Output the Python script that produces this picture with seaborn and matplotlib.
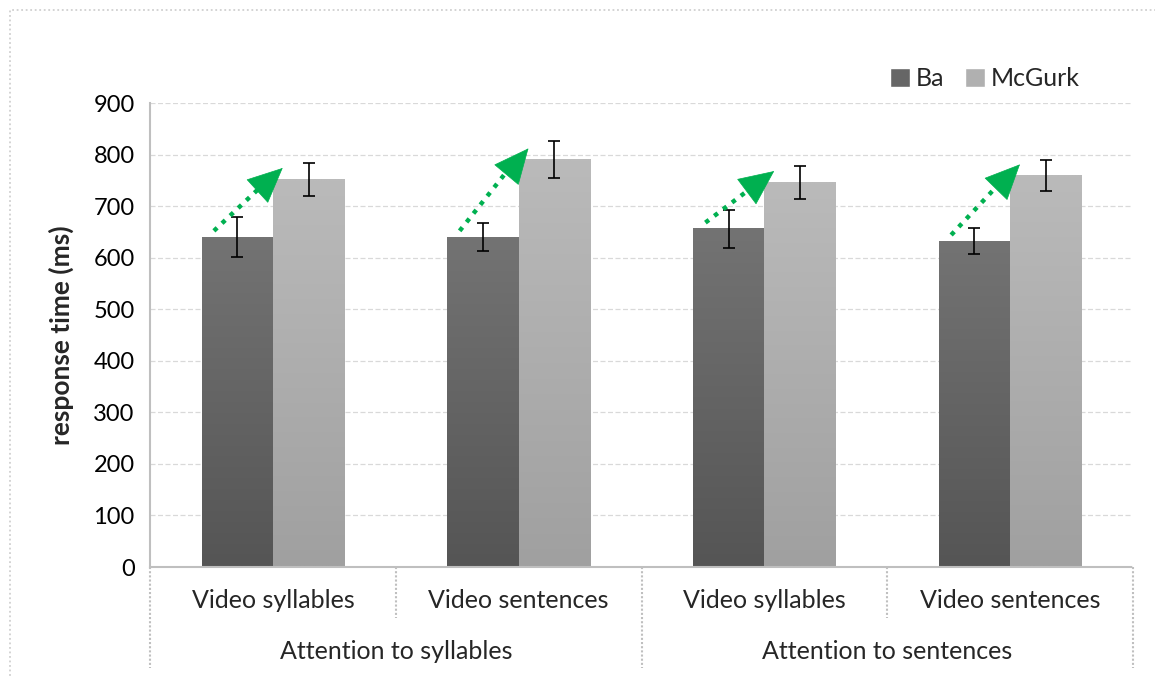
import numpy as np
import pandas as pd
import seaborn as sns
import matplotlib.pyplot as plt
import matplotlib.transforms as mtransforms
from matplotlib.patches import Patch, Rectangle

# values
categories = ['Video syllables', 'Video sentences', 'Video syllables', 'Video sentences']
groups = ['Attention to syllables', 'Attention to sentences']
conditions = ['Ba', 'McGurk']
ba_rt = [640, 640, 656, 632]
ba_err = [38, 28, 37, 25]
mcgurk_rt = [752, 790, 746, 759]
mcgurk_err = [32, 36, 32, 30]

font = ['Lato', 'DejaVu Sans']
grid_col = '#d9d9d9'
axis_col = '#bfbfbf'
arrow_col = '#00b050'


def build_frame() -> pd.DataFrame:
    rows = []
    for i, cat in enumerate(categories):
        key = f'{i}_{cat}'
        rows.append({'slot': key, 'condition': 'Ba', 'rt': ba_rt[i], 'err': ba_err[i]})
        rows.append({'slot': key, 'condition': 'McGurk', 'rt': mcgurk_rt[i], 'err': mcgurk_err[i]})
    return pd.DataFrame(rows)


def paint_gradient(ax, patch, top_col, bottom_col):
    x0, y0 = patch.get_x(), patch.get_y()
    w, h = patch.get_width(), patch.get_height()
    c_top = np.array(plt.matplotlib.colors.to_rgb(top_col))
    c_bot = np.array(plt.matplotlib.colors.to_rgb(bottom_col))
    t = np.linspace(0, 1, 100)[:, None]
    grad = (c_top * (1 - t) + c_bot * t)[:, None, :]
    ax.imshow(grad, extent=[x0, x0 + w, y0, y0 + h], aspect='auto', zorder=2,
              interpolation='bilinear')
    patch.set_visible(False)


def main():
    sns.set_style('white')
    plt.rcParams['font.family'] = font

    data = build_frame()
    fig = plt.figure(figsize=(11.55, 6.77), dpi=100)
    ax = fig.add_axes([150 / 1155, 1 - 567 / 677, 983 / 1155, 464 / 677])

    sns.barplot(data=data, x='slot', y='rt', hue='condition', hue_order=conditions,
                palette=['#666666', '#b0b0b0'], width=0.58, errorbar=None,
                legend=False, ax=ax, zorder=2)

    # gradients + error bars
    bars_ba = ax.containers[0]
    bars_mc = ax.containers[1]
    for bars, errs, top_c, bot_c in [(bars_ba, ba_err, '#737373', '#555555'),
                                      (bars_mc, mcgurk_err, '#bababa', '#a0a0a0')]:
        for patch, e in zip(bars, errs):
            cx = patch.get_x() + patch.get_width() / 2
            ax.errorbar(cx, patch.get_height(), yerr=e, color='black', lw=1.2,
                        capsize=4.5, capthick=1.2, zorder=4)
            paint_gradient(ax, patch, top_c, bot_c)

    # green dotted arrows from Ba to McGurk
    for i in range(len(categories)):
        x0, y0 = i - 0.24, ba_rt[i] + 12
        x1, y1 = i + 0.04, mcgurk_rt[i] + 22
        ax.plot([x0, x1 - 0.03], [y0, y1 - 10], color=arrow_col, lw=3.2,
                linestyle=(0, (1, 1.5)), zorder=5)
        xm, ym = x0 + 0.75 * (x1 - x0), y0 + 0.75 * (y1 - y0)
        ax.annotate('', xy=(x1, y1), xytext=(xm, ym),
                    arrowprops=dict(arrowstyle='-|>,head_length=1.2,head_width=0.55',
                                    color=arrow_col, lw=0.5, mutation_scale=20,
                                    shrinkA=0, shrinkB=0),
                    zorder=5)

    ax.set_xlim(-0.5, 3.5)
    ax.set_ylim(0, 900)
    ax.set_yticks(range(0, 901, 100))
    ax.yaxis.grid(True, color=grid_col, linestyle=(0, (4, 2)), lw=0.9)
    ax.set_axisbelow(True)
    for s in ['top', 'right']:
        ax.spines[s].set_visible(False)
    for s in ['left', 'bottom']:
        ax.spines[s].set_color(axis_col)
        ax.spines[s].set_linestyle((0, (1, 1)))
        ax.spines[s].set_linewidth(1.5)
    ax.tick_params(axis='y', labelsize=17, length=5, color=axis_col, pad=6, labelcolor='black')
    ax.tick_params(axis='x', length=0, labelbottom=False)
    ax.set_xlabel('')
    ax.set_ylabel('response time (ms)', fontsize=19, fontweight='bold', labelpad=14)

    # two-level category axis
    trans = mtransforms.blended_transform_factory(ax.transData, ax.transAxes)
    for i, cat in enumerate(categories):
        ax.text(i, -0.073, cat, transform=trans, ha='center', va='center', fontsize=18)
    for g, name in enumerate(groups):
        ax.text(2 * g + 0.5, -0.183, name, transform=trans, ha='center', va='center', fontsize=18)
    for xs, depth in [(-0.5, -0.218), (0.5, -0.11), (1.5, -0.218), (2.5, -0.11), (3.5, -0.218)]:
        ax.plot([xs, xs], [0, depth], transform=trans, color=axis_col, lw=1.5,
                linestyle=(0, (1, 1)), clip_on=False)

    # legend
    handles = [Patch(facecolor='#666666', label='Ba'), Patch(facecolor='#b0b0b0', label='McGurk')]
    fig.legend(handles=handles, loc='center right', bbox_to_anchor=(1090 / 1155, 1 - 79 / 677),
               ncol=2, frameon=False, fontsize=18, handlelength=0.8, handleheight=0.8,
               handletextpad=0.25, columnspacing=0.8, borderaxespad=0)

    # outer chart border
    fig.patches.append(Rectangle((10 / 1155, -0.1), 1.2, 1 - 10 / 677 + 0.1,
                                 transform=fig.transFigure, fill=False, edgecolor='#d0d0d0',
                                 lw=1.3, linestyle=(0, (1, 1.5))))

    fig.savefig('out.png', dpi=100)


if __name__ == '__main__':
    main()
